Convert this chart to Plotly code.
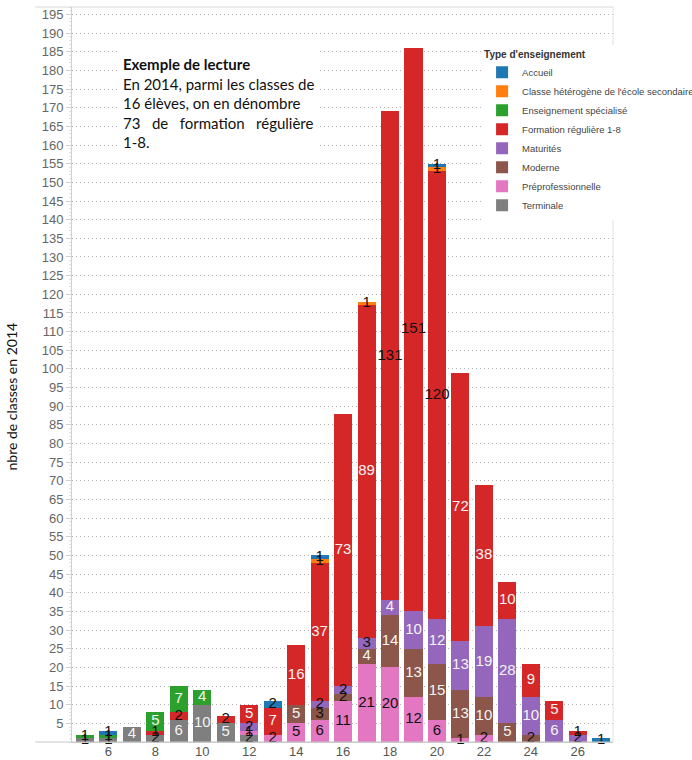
import plotly.graph_objects as go

# Class sizes (number of pupils per class)
sizes = list(range(5, 28))

# Number of classes by type (stack order: bottom -> top)
terminale       = [1, 1, 4, 2, 6, 10, 5, 2, 0, 0, 0, 0, 0, 0, 0, 0, 0, 0, 0, 0, 0, 0, 0]
preprof         = [0, 0, 0, 0, 0, 0, 0, 1, 2, 5, 6, 11, 21, 20, 12, 6, 1, 2, 0, 0, 0, 0, 0]
moderne         = [0, 0, 0, 0, 0, 0, 0, 0, 0, 5, 3, 2, 4, 14, 13, 15, 13, 10, 5, 2, 0, 0, 0]
maturites       = [0, 0, 0, 0, 0, 0, 0, 2, 0, 0, 2, 2, 3, 4, 10, 12, 13, 19, 28, 10, 6, 2, 0]
formation_reg   = [0, 0, 0, 1, 2, 0, 2, 5, 7, 16, 37, 73, 89, 131, 151, 120, 72, 38, 10, 9, 5, 1, 0]
ens_specialise  = [1, 1, 0, 5, 7, 4, 0, 0, 0, 0, 0, 0, 0, 0, 0, 0, 0, 0, 0, 0, 0, 0, 0]
classe_hetero   = [0, 0, 0, 0, 0, 0, 0, 0, 0, 0, 1, 0, 1, 0, 0, 1, 0, 0, 0, 0, 0, 0, 0]
accueil         = [0, 1, 0, 0, 0, 0, 0, 0, 2, 0, 1, 0, 0, 0, 0, 1, 0, 0, 0, 0, 0, 0, 1]

series = [
    ("Terminale", terminale, "#7f7f7f"),
    ("Préprofessionnelle", preprof, "#e377c2"),
    ("Moderne", moderne, "#8c564b"),
    ("Maturités", maturites, "#9467bd"),
    ("Formation régulière 1-8", formation_reg, "#d62728"),
    ("Enseignement spécialisé", ens_specialise, "#2ca02c"),
    ("Classe hétérogène de l'école secondaire", classe_hetero, "#ff7f0e"),
    ("Accueil", accueil, "#1f77b4"),
]

ytick_vals = list(range(5, 200, 5))
xtick_vals = list(range(6, 27, 2))

fig = go.Figure()

base = [0] * len(sizes)
label_x, label_y, label_t, label_c = [], [], [], []
for name, vals, col in series:
    fig.add_trace(go.Bar(
        x=sizes, y=vals, name=name, marker=dict(color=col, line=dict(width=0)),
        hoverinfo="x+y+name",
    ))
    for i, v in enumerate(vals):
        if v > 0:
            label_x.append(sizes[i])
            label_y.append(base[i] + v / 2)
            label_t.append(str(v))
            dark = (name == "Préprofessionnelle") or v <= 3 or v >= 120
            label_c.append("#111111" if dark else "#f4f4f4")
        base[i] += v

fig.add_trace(go.Scatter(
    x=label_x, y=label_y, text=label_t, mode="text",
    textfont=dict(family="Arial, Liberation Sans", size=15, color=label_c),
    showlegend=False, hoverinfo="skip", cliponaxis=False,
))

fig.update_layout(
    width=692, height=760,
    margin=dict(l=72, r=79, t=7, b=18, autoexpand=False),
    barmode="stack", bargap=0.23,
    paper_bgcolor="white", plot_bgcolor="white",
    font=dict(family="Arial, Liberation Sans", color="#555"),
    xaxis=dict(
        range=[4.45, 27.5], tickvals=xtick_vals, showgrid=False,
        tickfont=dict(size=13, color="#555"), showline=True, linecolor="#c8c8c8",
        ticks="", zeroline=False, ticklabelstandoff=-3,
    ),
    yaxis=dict(
        range=[0, 197], tickvals=ytick_vals, showgrid=True, gridcolor="#b0b0b0",
        griddash="1px,3px", gridwidth=1, tickfont=dict(size=13, color="#666"),
        showline=True, linecolor="#d0d0d0", ticks="outside", ticklen=5, tickcolor="#d0d0d0",
        minor=dict(dtick=1, ticks="outside", ticklen=2, tickcolor="#e0e0e0"),
        zeroline=False,
    ),
    legend=dict(
        x=0.758, y=0.9486, xanchor="left", yanchor="top", traceorder="reversed",
        bgcolor="white", font=dict(family="Arial, Liberation Sans", size=9.5, color="#444"),
        title=dict(text="<b>Type d'enseignement</b>", font=dict(size=10, color="#333")),
        itemwidth=30, tracegroupgap=0,
    ),
    shapes=[
        dict(type="line", xref="paper", yref="paper", x0=-0.068, x1=1, y0=1, y1=1,
             line=dict(color="#d8d8d8", width=1)),
        dict(type="line", xref="paper", yref="paper", x0=-0.068, x1=1, y0=0, y1=0,
             line=dict(color="#c8c8c8", width=1)),
        dict(type="line", xref="paper", yref="paper", x0=1, x1=1, y0=0, y1=1,
             line=dict(color="#e0e0e0", width=1)),
    ],
    annotations=[
        dict(
            xref="paper", yref="paper", x=0.085, y=0.9418, xanchor="left", yanchor="top",
            align="left", showarrow=False, bgcolor="white", borderpad=4,
            font=dict(family="Lato, Open Sans", size=15, color="#111"),
            text=("<b>Exemple de lecture</b><br>En 2014, parmi les classes de<br>"
                  "16 élèves, on en dénombre<br>73&nbsp;&nbsp; de &nbsp;&nbsp;formation &nbsp;&nbsp;régulière<br>1-8."),
        ),
        dict(
            xref="paper", yref="paper", x=-0.111, y=0.47, xanchor="center", yanchor="middle",
            textangle=-90, showarrow=False,
            font=dict(family="Lato, Open Sans", size=14, color="#111"),
            text="nbre de classes en 2014",
        ),
    ],
)

fig.write_html("out.html", config={"displayModeBar": False},
               post_script="document.body.style.margin='0';document.body.style.padding='0';")
